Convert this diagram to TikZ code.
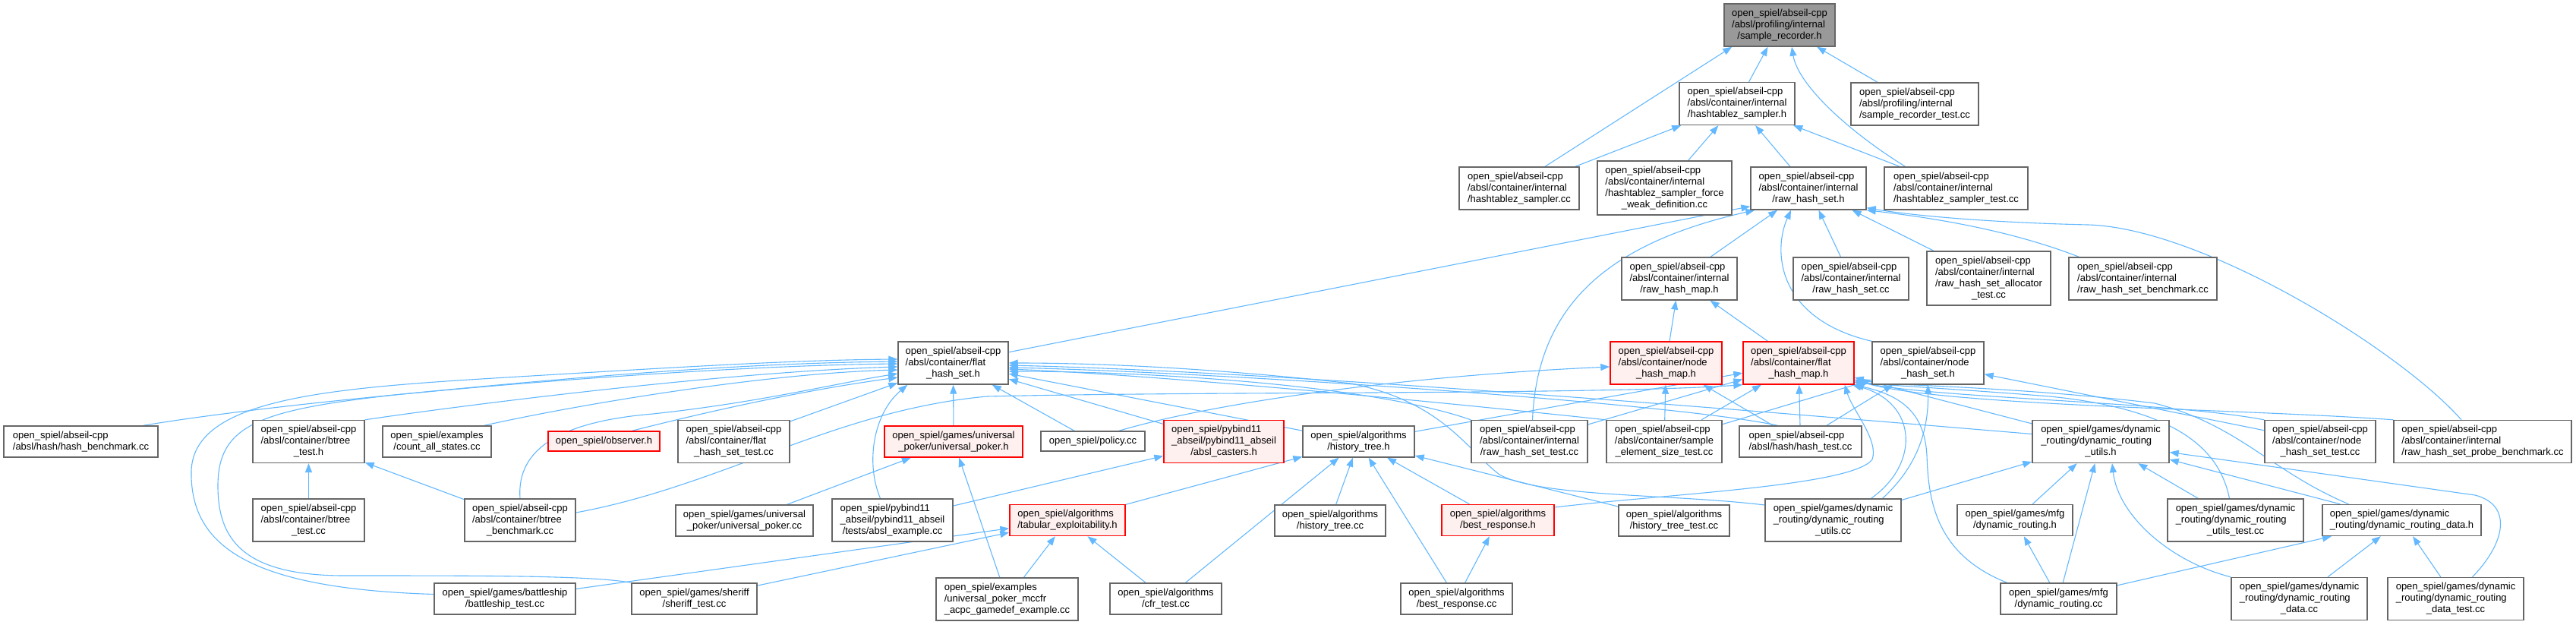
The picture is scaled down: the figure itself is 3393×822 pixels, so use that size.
\documentclass[tikz,border=0pt]{standalone}
\usepackage{fontspec}
\setmainfont{Liberation Sans}
\usetikzlibrary{arrows.meta}
\definecolor{edgeblue}{HTML}{63B8FF}
\definecolor{boxgray}{HTML}{666666}
\definecolor{rootfill}{HTML}{999999}
\definecolor{redfill}{HTML}{FFF0F0}
\newcommand\lc[1]{\multicolumn{1}{@{}c@{}}{#1}}
\newcommand\tb[1]{\begin{tabular}{@{}l@{}}#1\end{tabular}}
\newcommand\bx[6]{\node[#1, minimum width=#4pt, minimum height=#5pt] (#2) at (#3) {#6};}
\pgfdeclarelayer{bg}
\pgfsetlayers{bg,main}
\tikzset{
  box/.style={draw=boxgray, fill=white, line width=1.4pt, inner sep=0pt},
  rootbox/.style={box, fill=rootfill},
  redbox/.style={draw=red, fill=redfill, line width=1.4pt, inner sep=0pt},
  edge/.style={draw=edgeblue, line width=1.1pt, -{Triangle[length=12pt,width=9pt]}}
}
\begin{document}
\begin{tikzpicture}[x=1pt, y=-1pt, font=\fontsize{13}{15}\selectfont]
\useasboundingbox (0,0) rectangle (3393,822);
% row A-D
\bx{rootbox}{n1}{2344,33}{146}{56}{\tb{open\_spiel/abseil-cpp\\/absl/profiling/internal\\\lc{/sample\_recorder.h}}}
\bx{box}{n2}{2288,136.5}{152}{56}{\tb{open\_spiel/abseil-cpp\\/absl/container/internal\\\lc{/hashtablez\_sampler.h}}}
\bx{box}{n3}{2522,137}{168}{56}{\tb{open\_spiel/abseil-cpp\\/absl/profiling/internal\\\lc{/sample\_recorder\_test.cc}}}
\bx{box}{n4}{2001,248}{158}{56}{\tb{open\_spiel/abseil-cpp\\/absl/container/internal\\\lc{/hashtablez\_sampler.cc}}}
\bx{box}{n5}{2192.5,247.5}{177}{71}{\tb{open\_spiel/abseil-cpp\\/absl/container/internal\\/hashtablez\_sampler\_force\\\lc{\_weak\_definition.cc}}}
\bx{box}{n6}{2382,248}{152}{56}{\tb{open\_spiel/abseil-cpp\\/absl/container/internal\\\lc{/raw\_hash\_set.h}}}
\bx{box}{n7}{2576.5,248}{189}{56}{\tb{open\_spiel/abseil-cpp\\/absl/container/internal\\\lc{/hashtablez\_sampler\_test.cc}}}
\bx{box}{n8}{2212,367}{152}{56}{\tb{open\_spiel/abseil-cpp\\/absl/container/internal\\\lc{/raw\_hash\_map.h}}}
\bx{box}{n9}{2438,367}{152}{56}{\tb{open\_spiel/abseil-cpp\\/absl/container/internal\\\lc{/raw\_hash\_set.cc}}}
\bx{box}{n10}{2619.5,366.5}{163}{71}{\tb{open\_spiel/abseil-cpp\\/absl/container/internal\\/raw\_hash\_set\_allocator\\\lc{\_test.cc}}}
\bx{box}{n11}{2822.5,367}{195}{56}{\tb{open\_spiel/abseil-cpp\\/absl/container/internal\\\lc{/raw\_hash\_set\_benchmark.cc}}}
% row E
\bx{box}{n12}{1255.5,478}{145}{56}{\tb{open\_spiel/abseil-cpp\\/absl/container/flat\\\lc{\_hash\_set.h}}}
\bx{redbox}{n13}{2194.5,478}{147}{56}{\tb{open\_spiel/abseil-cpp\\/absl/container/node\\\lc{\_hash\_map.h}}}
\bx{redbox}{n14}{2369,478}{146}{56}{\tb{open\_spiel/abseil-cpp\\/absl/container/flat\\\lc{\_hash\_map.h}}}
\bx{box}{n15}{2539.5,478}{147}{56}{\tb{open\_spiel/abseil-cpp\\/absl/container/node\\\lc{\_hash\_set.h}}}
% row F
\bx{box}{n16}{106.5,581.5}{203}{41}{\tb{open\_spiel/abseil-cpp\\\lc{/absl/hash/hash\_benchmark.cc}}}
\bx{box}{n17}{406.5,581.5}{147}{56}{\tb{open\_spiel/abseil-cpp\\/absl/container/btree\\\lc{\_test.h}}}
\bx{box}{n18}{575.5,581.5}{143}{41}{\tb{open\_spiel/examples\\\lc{/count\_all\_states.cc}}}
\bx{redbox}{n19}{795.5,581}{147}{26}{open\_spiel/observer.h}
\bx{box}{n20}{966.5,581.5}{147}{56}{\tb{open\_spiel/abseil-cpp\\/absl/container/flat\\\lc{\_hash\_set\_test.cc}}}
\bx{redbox}{n21}{1256,581.5}{182}{41}{\tb{open\_spiel/games/universal\\\lc{\_poker/universal\_poker.h}}}
\bx{box}{n22}{1439.5,581}{137}{26}{open\_spiel/policy.cc}
\bx{redbox}{n23}{1612,581.5}{158}{56}{\tb{open\_spiel/pybind11\\\_abseil/pybind11\_abseil\\\lc{/absl\_casters.h}}}
\bx{box}{n24}{1789.5,581.5}{147}{41}{\tb{open\_spiel/algorithms\\\lc{/history\_tree.h}}}
\bx{box}{n25}{2014.5,581.5}{153}{56}{\tb{open\_spiel/abseil-cpp\\/absl/container/internal\\\lc{/raw\_hash\_set\_test.cc}}}
\bx{box}{n26}{2192,581.5}{152}{56}{\tb{open\_spiel/abseil-cpp\\/absl/container/sample\\\lc{\_element\_size\_test.cc}}}
\bx{box}{n27}{2371.5,581.5}{161}{41}{\tb{open\_spiel/abseil-cpp\\\lc{/absl/hash/hash\_test.cc}}}
\bx{box}{n28}{2767,581.5}{180}{56}{\tb{open\_spiel/games/dynamic\\\_routing/dynamic\_routing\\\lc{\_utils.h}}}
\bx{box}{n29}{3056,581.5}{146}{56}{\tb{open\_spiel/abseil-cpp\\/absl/container/node\\\lc{\_hash\_set\_test.cc}}}
\bx{box}{n30}{3270,581.5}{234}{56}{\tb{open\_spiel/abseil-cpp\\/absl/container/internal\\\lc{/raw\_hash\_set\_probe\_benchmark.cc}}}
% row G
\bx{box}{n31}{406.5,685}{147}{56}{\tb{open\_spiel/abseil-cpp\\/absl/container/btree\\\lc{\_test.cc}}}
\bx{box}{n32}{685,685}{146}{56}{\tb{open\_spiel/abseil-cpp\\/absl/container/btree\\\lc{\_benchmark.cc}}}
\bx{box}{n33}{980.5,685.5}{181}{41}{\tb{open\_spiel/games/universal\\\lc{\_poker/universal\_poker.cc}}}
\bx{box}{n34}{1175.5,685}{159}{56}{\tb{open\_spiel/pybind11\\\_abseil/pybind11\_abseil\\\lc{/tests/absl\_example.cc}}}
\bx{redbox}{n35}{1406,685}{152}{41}{\tb{open\_spiel/algorithms\\\lc{/tabular\_exploitability.h}}}
\bx{box}{n36}{1752,685.5}{146}{41}{\tb{open\_spiel/algorithms\\\lc{/history\_tree.cc}}}
\bx{redbox}{n37}{1973,685}{148}{41}{\tb{open\_spiel/algorithms\\\lc{/best\_response.h}}}
\bx{box}{n38}{2205,685.5}{146}{41}{\tb{open\_spiel/algorithms\\\lc{/history\_tree\_test.cc}}}
\bx{box}{n39}{2414.5,685}{179}{56}{\tb{open\_spiel/games/dynamic\\\_routing/dynamic\_routing\\\lc{\_utils.cc}}}
\bx{box}{n40}{2654,685}{152}{41}{\tb{open\_spiel/games/mfg\\\lc{/dynamic\_routing.h}}}
\bx{box}{n41}{2944.5,685}{179}{56}{\tb{open\_spiel/games/dynamic\\\_routing/dynamic\_routing\\\lc{\_utils\_test.cc}}}
\bx{box}{n42}{3163.5,685}{209}{41}{\tb{open\_spiel/games/dynamic\\\lc{\_routing/dynamic\_routing\_data.h}}}
% row H
\bx{box}{n43}{665,788.5}{186}{41}{\tb{open\_spiel/games/battleship\\\lc{/battleship\_test.cc}}}
\bx{box}{n44}{914.5,788.5}{165}{41}{\tb{open\_spiel/games/sheriff\\\lc{/sheriff\_test.cc}}}
\bx{box}{n45}{1326.5,789}{187}{56}{\tb{open\_spiel/examples\\/universal\_poker\_mccfr\\\lc{\_acpc\_gamedef\_example.cc}}}
\bx{box}{n46}{1535.5,788.5}{147}{41}{\tb{open\_spiel/algorithms\\\lc{/cfr\_test.cc}}}
\bx{box}{n47}{1918.5,788.5}{147}{41}{\tb{open\_spiel/algorithms\\\lc{/best\_response.cc}}}
\bx{box}{n48}{2711.5,788.5}{153}{41}{\tb{open\_spiel/games/mfg\\\lc{/dynamic\_routing.cc}}}
\bx{box}{n49}{3028.5,788.5}{179}{56}{\tb{open\_spiel/games/dynamic\\\_routing/dynamic\_routing\\\lc{\_data.cc}}}
\bx{box}{n50}{3234.5,788.5}{179}{56}{\tb{open\_spiel/games/dynamic\\\_routing/dynamic\_routing\\\lc{\_data\_test.cc}}}

\begin{pgfonlayer}{bg}
% top cluster
\draw[edge] (n2) -- (n1);
\draw[edge] (n3) -- (n1);
\draw[edge] ([xshift=34pt]n4.north) -- ([xshift=11pt]n1.south west);
\draw[edge] ([xshift=-67pt]n7.north) .. controls (2430,170) and (2368,110) .. ([xshift=16pt]n1.south);
\draw[edge] (n4) -- (n2);
\draw[edge] (n5) -- (n2);
\draw[edge] (n6) -- (n2);
\draw[edge] (n7) -- (n2);
\draw[edge] (n8) -- (n6);
\draw[edge] (n9) -- (n6);
\draw[edge] (n10) -- (n6);
\draw[edge] ([xshift=14pt]n11.north west) .. controls (2640,300) and (2530,285) .. (n6.south east);
\draw[edge] ([xshift=-28pt]n30.north) .. controls (3160,460) and (2900,300) .. (2750,296) .. controls (2620,293) and (2520,284) .. ([yshift=3pt]n6.south east);
\draw[edge] (n15.north west) .. controls (2340,420) and (2335,330) .. ([xshift=-23pt]n6.south);
\draw[edge] ([xshift=4pt]n25.north) .. controls (2025,400) and (2120,320) .. ([xshift=6pt]n6.south west);
\draw[edge] (n12) -- ([yshift=5pt]n6.south west);
\draw[edge] (n13) -- (n8);
\draw[edge] (n14) -- (n8);
% into flat_hash_set.h from the left
\draw[edge] ([xshift=-20pt]n16.north east) .. controls (400,525) and (900,482) .. ([yshift=-1pt]n12.west);
\draw[edge] ([yshift=6pt]n43.west) .. controls (330,775) and (250,720) .. (252,620) .. controls (255,520) and (450,510) .. (700,495) .. controls (900,483) and (1050,474) .. ([yshift=5pt]n12.west);
\draw[edge] (n44.north west) .. controls (780,758) and (650,758) .. (450,758) .. controls (320,757) and (287,710) .. (287,640) .. controls (287,560) and (340,540) .. (520,520) .. controls (800,492) and (1000,478) .. ([yshift=2pt]n12.west);
\draw[edge] (n17.north east) .. controls (600,535) and (950,490) .. ([yshift=-5pt]n12.west);
\draw[edge] ([xshift=-10pt]n18.north east) .. controls (750,535) and (1000,492) .. ([yshift=-9pt]n12.west);
\draw[edge] ([xshift=37pt]n19.north) .. controls (920,545) and (1050,515) .. ([yshift=-19pt]n12.west);
\draw[edge] (n32.north) .. controls (680,590) and (740,555) .. (860,545) .. controls (1000,530) and (1100,505) .. ([yshift=-14pt]n12.west);
\draw[edge] (n20) -- (n12);
\draw[edge] ([xshift=-16pt]n34.north) .. controls (1140,610) and (1150,545) .. ([xshift=13pt]n12.south west);
\draw[edge] (n21) -- (n12);
\draw[edge] (n22) -- (n12);
\draw[edge] (n23) -- (n12);
\draw[edge] (n24) -- (n12);
% into flat_hash_set.h from the right
\draw[edge] (n25.north west) .. controls (1800,505) and (1500,489) .. ([yshift=-11pt]n12.east);
\draw[edge] (n26.north west) .. controls (1950,535) and (1550,495) .. ([yshift=-8pt]n12.east);
\draw[edge] ([xshift=-30pt]n27.north) .. controls (2200,530) and (1600,490) .. ([yshift=-6pt]n12.east);
\draw[edge] ([yshift=10pt]n28.west) .. controls (2300,540) and (1700,490) .. ([yshift=-3pt]n12.east);
\draw[edge] ([yshift=20pt]n39.west) .. controls (2200,650) and (2030,655) .. (1975,625) .. controls (1930,590) and (1900,530) .. (1780,505) .. controls (1600,485) and (1450,478) .. (n12.east);
% node_hash_map.h
\draw[edge] ([xshift=-35pt]n22.north east) .. controls (1600,530) and (1850,495) .. ([yshift=-5pt]n13.west);
\draw[edge] (n26) -- (n13);
\draw[edge] (n27) -- (n13);
% flat_hash_map.h
\draw[edge] ([yshift=10pt]n32.east) .. controls (950,640) and (1100,540) .. (1300,522) .. controls (1600,515) and (2100,520) .. (n14.south west);
\draw[edge] (n24) -- (n14);
\draw[edge] (n25) -- (n14);
\draw[edge] (n26) -- (n14);
\draw[edge] (n27) -- (n14);
\draw[edge] (n28) -- (n14);
\draw[edge] ([yshift=17pt]n37.east) .. controls (2200,650) and (2440,640) .. (2466,605) .. controls (2475,580) and (2440,540) .. ([xshift=-13pt]n14.south east);
\draw[edge] ([xshift=50pt]n39.north) .. controls (2530,610) and (2525,530) .. ([xshift=-3pt]n14.south east);
\draw[edge] ([xshift=-68pt]n48.north) .. controls (2550,730) and (2540,660) .. (2538,600) .. controls (2535,540) and (2500,520) .. (n14.south east);
\draw[edge] ([xshift=-8pt]n41.north) .. controls (2925,600) and (2880,540) .. (2700,522) .. controls (2600,514) and (2500,508) .. ([yshift=3pt]n14.south east);
\draw[edge] ([xshift=-70pt]n42.north) .. controls (2990,620) and (2950,560) .. (2838,531) .. controls (2700,514) and (2550,508) .. ([yshift=3pt]n14.south east);
\draw[edge] (n29.north west) .. controls (2850,528) and (2550,525) .. ([yshift=5pt]n14.south east);
\draw[edge] (n30.north west) .. controls (2950,538) and (2550,535) .. ([yshift=7pt]n14.south east);
% node_hash_set.h
\draw[edge] (n26) -- (n15);
\draw[edge] (n27) -- (n15);
\draw[edge] (n29) -- (n15);
\draw[edge] ([xshift=65pt]n39.north) .. controls (2530,610) and (2540,560) .. (n15.south);
% lower left clusters
\draw[edge] (n31) -- (n17);
\draw[edge] (n32) -- (n17);
\draw[edge] (n33) -- (n21);
\draw[edge] (n45) -- (n21);
\draw[edge] (n34) -- (n23);
\draw[edge] (n35) -- (n24);
\draw[edge] (n36) -- (n24);
\draw[edge] (n37) -- (n24);
\draw[edge] (n38) -- (n24);
\draw[edge] (n46) -- (n24);
\draw[edge] (n47) -- (n24);
\draw[edge] (n47) -- (n37);
\draw[edge] (n43) -- (n35);
\draw[edge] (n44) -- (n35);
\draw[edge] (n45) -- (n35);
\draw[edge] (n46) -- (n35);
% dynamic routing cluster
\draw[edge] (n39) -- (n28);
\draw[edge] (n40) -- (n28);
\draw[edge] (n41) -- (n28);
\draw[edge] (n42) -- (n28);
\draw[edge] (n48) -- (n28);
\draw[edge] (n49.north west) .. controls (2860,740) and (2790,680) .. ([xshift=15pt]n28.south);
\draw[edge] ([xshift=22pt]n50.north) .. controls (3300,715) and (3310,665) .. (3260,652) -- ([yshift=-14pt]n28.east);
\draw[edge] (n48) -- (n40);
\draw[edge] (n48) -- (n42);
\draw[edge] (n49) -- (n42);
\draw[edge] (n50) -- (n42);
\end{pgfonlayer}
\end{tikzpicture}
\end{document}
